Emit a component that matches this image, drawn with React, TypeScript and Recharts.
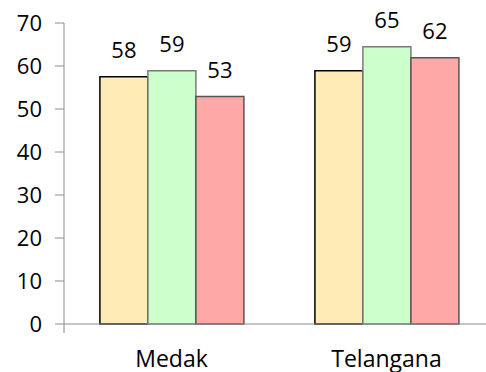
import { BarChart, Bar, XAxis, YAxis, LabelList } from "recharts";

const categories = ["Medak", "Telangana"];
const series1 = [57.5, 58.9];
const series2 = [58.9, 64.5];
const series3 = [52.9, 61.9];
const labels1 = [58, 59];
const labels2 = [59, 65];
const labels3 = [53, 62];
const yTicks = [0, 10, 20, 30, 40, 50, 60, 70];
const boundaryTicks = [0, 1, 2];

const data = categories.map((name, i) => ({
  name,
  s1: series1[i],
  s2: series2[i],
  s3: series3[i],
  l1: labels1[i],
  l2: labels2[i],
  l3: labels3[i],
}));

const font = "'Open Sans', sans-serif";
const axisColor = "#8c8c8c";

const App: React.FC = () => {
  return (
    <div style={{ position: "absolute", left: 0, top: 0, width: 486, height: 372, background: "#fff" }}>
      <BarChart
        width={486}
        height={372}
        data={data}
        margin={{ top: 23, right: -8, left: 0, bottom: 0 }}
        barCategoryGap="16.7%"
        barGap={0}
        style={{ fontFamily: font }}
      >
        <XAxis
          xAxisId="bounds"
          type="number"
          domain={[0, 2]}
          ticks={boundaryTicks}
          allowDataOverflow
          tick={() => <g />}
          tickSize={9}
          axisLine={{ stroke: axisColor }}
          tickLine={{ stroke: axisColor }}
          height={1}
        />
        <XAxis
          xAxisId="cat"
          dataKey="name"
          height={47}
          tickLine={false}
          tickSize={0}
          tickMargin={26}
          axisLine={false}
          tick={{ fill: "#000", fontSize: 23, fontFamily: font }}
        />
        <YAxis
          domain={[0, 70]}
          ticks={yTicks}
          width={64}
          tickSize={9}
          tickMargin={13}
          axisLine={{ stroke: axisColor }}
          tickLine={{ stroke: axisColor }}
          tick={{ fill: "#000", fontSize: 22, fontFamily: font }}
        />
        <Bar xAxisId="cat" dataKey="s1" fill="#ffebb6" stroke="#000" strokeWidth={1.5} isAnimationActive={false}>
          <LabelList dataKey="l1" position="top" offset={19} fill="#000" fontSize={22} fontFamily={font} />
        </Bar>
        <Bar xAxisId="cat" dataKey="s2" fill="#ccffcc" stroke="#7a7a7a" strokeWidth={1.5} isAnimationActive={false}>
          <LabelList dataKey="l2" position="top" offset={19} fill="#000" fontSize={22} fontFamily={font} />
        </Bar>
        <Bar xAxisId="cat" dataKey="s3" fill="#ffa8a8" stroke="#555" strokeWidth={1.5} isAnimationActive={false}>
          <LabelList dataKey="l3" position="top" offset={19} fill="#000" fontSize={22} fontFamily={font} />
        </Bar>
      </BarChart>
    </div>
  );
};

export default App;
